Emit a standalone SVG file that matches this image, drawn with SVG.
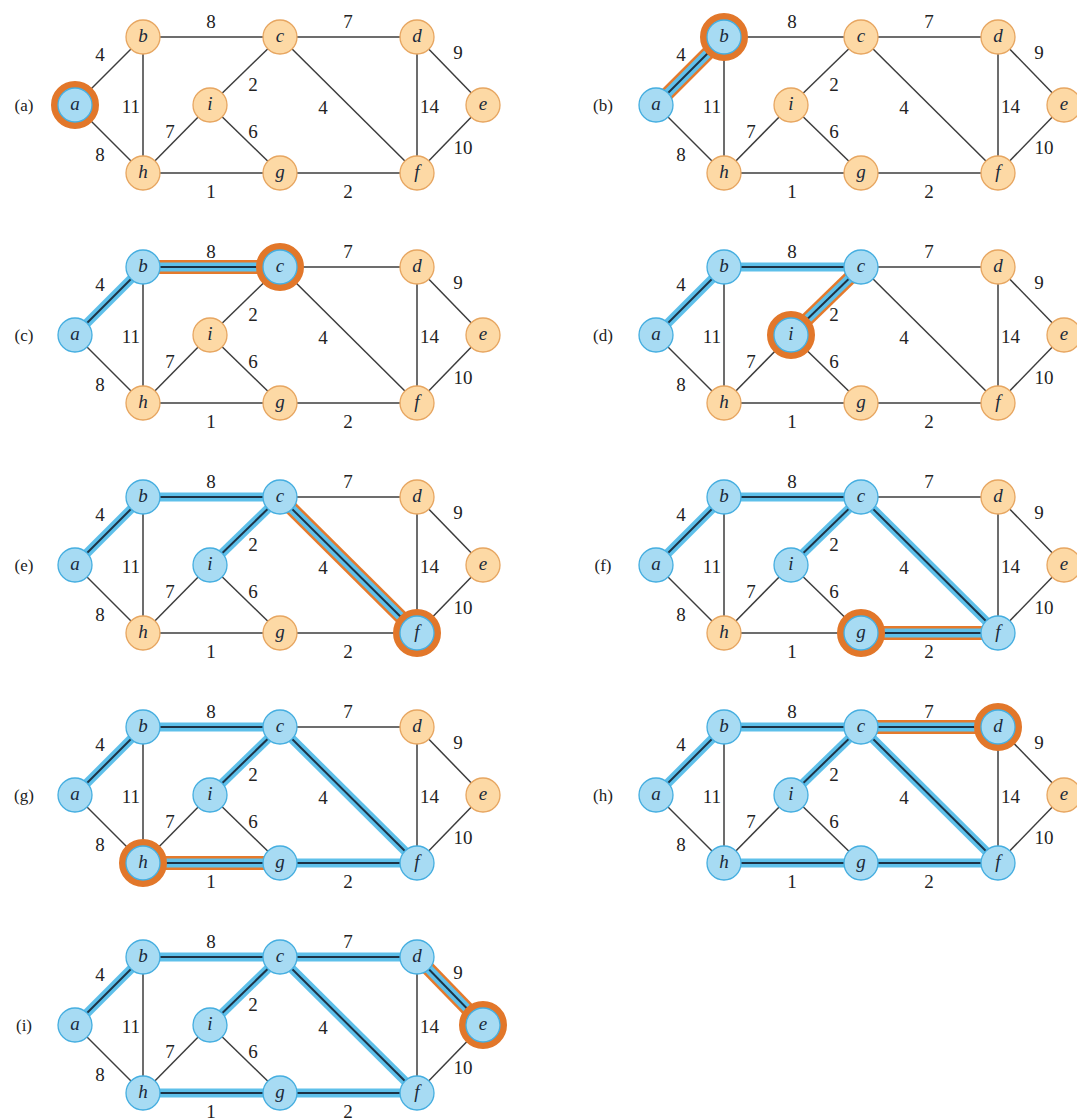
<svg xmlns="http://www.w3.org/2000/svg" width="1077" height="1120" viewBox="0 0 1077 1120">
<style>
.e line{stroke:#3d3d3d;stroke-width:1.5}
.ho{stroke:#E57A2C;stroke-width:14}
.hb{stroke:#5EC0EA;stroke-width:9}
.hc{stroke:#1d3346;stroke-width:2}
.w{font-family:"Liberation Serif","Times New Roman",serif;font-size:19px;fill:#222;text-anchor:middle}
.wr{text-anchor:end}
.ws{text-anchor:start}
.pl{font-family:"Liberation Serif","Times New Roman",serif;font-size:17px;fill:#222;text-anchor:middle}
.no circle{fill:#FDD9A5;stroke:#E7A661;stroke-width:1.3}
.nb circle{fill:#A7DBF3;stroke:#45AEE0;stroke-width:1.3}
circle.ring{fill:none;stroke:#E2772A;stroke-width:7}
.no text,.nb text{font-family:"Liberation Serif","Times New Roman",serif;font-style:italic;font-size:19px;fill:#1a2a3a;text-anchor:middle}
</style>
<defs>
<g id="edges" class="e">
<line x1="0" y1="0" x2="68" y2="-68"/>
<line x1="0" y1="0" x2="68" y2="68"/>
<line x1="68" y1="-68" x2="205" y2="-68"/>
<line x1="68" y1="-68" x2="68" y2="68"/>
<line x1="205" y1="-68" x2="342" y2="-68"/>
<line x1="205" y1="-68" x2="135" y2="0"/>
<line x1="205" y1="-68" x2="342" y2="68"/>
<line x1="342" y1="-68" x2="408" y2="0"/>
<line x1="342" y1="-68" x2="342" y2="68"/>
<line x1="408" y1="0" x2="342" y2="68"/>
<line x1="68" y1="68" x2="135" y2="0"/>
<line x1="135" y1="0" x2="205" y2="68"/>
<line x1="68" y1="68" x2="205" y2="68"/>
<line x1="205" y1="68" x2="342" y2="68"/>
</g>
</defs>

<!-- Panel (a) -->
<g id="panel-a" transform="translate(75,105)">
<text class="pl" x="-51" y="6">(a)</text>
<g id="connectors-a"><use href="#edges"/></g>
<g class="w"><text x="25" y="-44">4</text><text x="136" y="-77">8</text><text x="273" y="-77">7</text><text x="383" y="-46">9</text><text class="wr" x="65" y="8">11</text><text x="178" y="-14">2</text><text x="248" y="9">4</text><text class="ws" x="345" y="8">14</text><text x="95" y="33">7</text><text x="178" y="33">6</text><text x="388" y="49">10</text><text x="25" y="56">8</text><text x="136" y="93">1</text><text x="273" y="93">2</text></g>
<g id="a-a" class="nb"><circle class="ring" cx="0" cy="0" r="20.5"/><circle cx="0" cy="0" r="17"/><text x="0" y="5">a</text></g>
<g id="a-b" class="no"><circle cx="68" cy="-68" r="17"/><text x="68" y="-63">b</text></g>
<g id="a-c" class="no"><circle cx="205" cy="-68" r="17"/><text x="205" y="-63">c</text></g>
<g id="a-d" class="no"><circle cx="342" cy="-68" r="17"/><text x="342" y="-63">d</text></g>
<g id="a-e" class="no"><circle cx="408" cy="0" r="17"/><text x="408" y="5">e</text></g>
<g id="a-f" class="no"><circle cx="342" cy="68" r="17"/><text x="342" y="73">f</text></g>
<g id="a-g" class="no"><circle cx="205" cy="68" r="17"/><text x="205" y="73">g</text></g>
<g id="a-h" class="no"><circle cx="68" cy="68" r="17"/><text x="68" y="73">h</text></g>
<g id="a-i" class="no"><circle cx="135" cy="0" r="17"/><text x="135" y="5">i</text></g>
</g>

<!-- Panel (b) -->
<g id="panel-b" transform="translate(656,105)">
<text class="pl" x="-53" y="6">(b)</text>
<g id="connectors-b"><use href="#edges"/>
<line class="ho" x1="0" y1="0" x2="68" y2="-68"/>
<line class="hb" x1="0" y1="0" x2="68" y2="-68"/>
<line class="hc" x1="0" y1="0" x2="68" y2="-68"/>
</g>
<g class="w"><text x="25" y="-44">4</text><text x="136" y="-77">8</text><text x="273" y="-77">7</text><text x="383" y="-46">9</text><text class="wr" x="65" y="8">11</text><text x="178" y="-14">2</text><text x="248" y="9">4</text><text class="ws" x="345" y="8">14</text><text x="95" y="33">7</text><text x="178" y="33">6</text><text x="388" y="49">10</text><text x="25" y="56">8</text><text x="136" y="93">1</text><text x="273" y="93">2</text></g>
<g id="b-a" class="nb"><circle cx="0" cy="0" r="17"/><text x="0" y="5">a</text></g>
<g id="b-b" class="nb"><circle class="ring" cx="68" cy="-68" r="20.5"/><circle cx="68" cy="-68" r="17"/><text x="68" y="-63">b</text></g>
<g id="b-c" class="no"><circle cx="205" cy="-68" r="17"/><text x="205" y="-63">c</text></g>
<g id="b-d" class="no"><circle cx="342" cy="-68" r="17"/><text x="342" y="-63">d</text></g>
<g id="b-e" class="no"><circle cx="408" cy="0" r="17"/><text x="408" y="5">e</text></g>
<g id="b-f" class="no"><circle cx="342" cy="68" r="17"/><text x="342" y="73">f</text></g>
<g id="b-g" class="no"><circle cx="205" cy="68" r="17"/><text x="205" y="73">g</text></g>
<g id="b-h" class="no"><circle cx="68" cy="68" r="17"/><text x="68" y="73">h</text></g>
<g id="b-i" class="no"><circle cx="135" cy="0" r="17"/><text x="135" y="5">i</text></g>
</g>

<!-- Panel (c) -->
<g id="panel-c" transform="translate(75,335)">
<text class="pl" x="-51" y="6">(c)</text>
<g id="connectors-c"><use href="#edges"/>
<line class="ho" x1="68" y1="-68" x2="205" y2="-68"/>
<line class="hb" x1="0" y1="0" x2="68" y2="-68"/><line class="hb" x1="68" y1="-68" x2="205" y2="-68"/>
<line class="hc" x1="0" y1="0" x2="68" y2="-68"/><line class="hc" x1="68" y1="-68" x2="205" y2="-68"/>
</g>
<g class="w"><text x="25" y="-44">4</text><text x="136" y="-77">8</text><text x="273" y="-77">7</text><text x="383" y="-46">9</text><text class="wr" x="65" y="8">11</text><text x="178" y="-14">2</text><text x="248" y="9">4</text><text class="ws" x="345" y="8">14</text><text x="95" y="33">7</text><text x="178" y="33">6</text><text x="388" y="49">10</text><text x="25" y="56">8</text><text x="136" y="93">1</text><text x="273" y="93">2</text></g>
<g id="c-a" class="nb"><circle cx="0" cy="0" r="17"/><text x="0" y="5">a</text></g>
<g id="c-b" class="nb"><circle cx="68" cy="-68" r="17"/><text x="68" y="-63">b</text></g>
<g id="c-c" class="nb"><circle class="ring" cx="205" cy="-68" r="20.5"/><circle cx="205" cy="-68" r="17"/><text x="205" y="-63">c</text></g>
<g id="c-d" class="no"><circle cx="342" cy="-68" r="17"/><text x="342" y="-63">d</text></g>
<g id="c-e" class="no"><circle cx="408" cy="0" r="17"/><text x="408" y="5">e</text></g>
<g id="c-f" class="no"><circle cx="342" cy="68" r="17"/><text x="342" y="73">f</text></g>
<g id="c-g" class="no"><circle cx="205" cy="68" r="17"/><text x="205" y="73">g</text></g>
<g id="c-h" class="no"><circle cx="68" cy="68" r="17"/><text x="68" y="73">h</text></g>
<g id="c-i" class="no"><circle cx="135" cy="0" r="17"/><text x="135" y="5">i</text></g>
</g>

<!-- Panel (d) -->
<g id="panel-d" transform="translate(656,335)">
<text class="pl" x="-53" y="6">(d)</text>
<g id="connectors-d"><use href="#edges"/>
<line class="ho" x1="205" y1="-68" x2="135" y2="0"/>
<line class="hb" x1="0" y1="0" x2="68" y2="-68"/><line class="hb" x1="68" y1="-68" x2="205" y2="-68"/><line class="hb" x1="205" y1="-68" x2="135" y2="0"/>
<line class="hc" x1="0" y1="0" x2="68" y2="-68"/><line class="hc" x1="68" y1="-68" x2="205" y2="-68"/><line class="hc" x1="205" y1="-68" x2="135" y2="0"/>
</g>
<g class="w"><text x="25" y="-44">4</text><text x="136" y="-77">8</text><text x="273" y="-77">7</text><text x="383" y="-46">9</text><text class="wr" x="65" y="8">11</text><text x="178" y="-14">2</text><text x="248" y="9">4</text><text class="ws" x="345" y="8">14</text><text x="95" y="33">7</text><text x="178" y="33">6</text><text x="388" y="49">10</text><text x="25" y="56">8</text><text x="136" y="93">1</text><text x="273" y="93">2</text></g>
<g id="d-a" class="nb"><circle cx="0" cy="0" r="17"/><text x="0" y="5">a</text></g>
<g id="d-b" class="nb"><circle cx="68" cy="-68" r="17"/><text x="68" y="-63">b</text></g>
<g id="d-c" class="nb"><circle cx="205" cy="-68" r="17"/><text x="205" y="-63">c</text></g>
<g id="d-d" class="no"><circle cx="342" cy="-68" r="17"/><text x="342" y="-63">d</text></g>
<g id="d-e" class="no"><circle cx="408" cy="0" r="17"/><text x="408" y="5">e</text></g>
<g id="d-f" class="no"><circle cx="342" cy="68" r="17"/><text x="342" y="73">f</text></g>
<g id="d-g" class="no"><circle cx="205" cy="68" r="17"/><text x="205" y="73">g</text></g>
<g id="d-h" class="no"><circle cx="68" cy="68" r="17"/><text x="68" y="73">h</text></g>
<g id="d-i" class="nb"><circle class="ring" cx="135" cy="0" r="20.5"/><circle cx="135" cy="0" r="17"/><text x="135" y="5">i</text></g>
</g>

<!-- Panel (e) -->
<g id="panel-e" transform="translate(75,565)">
<text class="pl" x="-51" y="6">(e)</text>
<g id="connectors-e"><use href="#edges"/>
<line class="ho" x1="205" y1="-68" x2="342" y2="68"/>
<line class="hb" x1="0" y1="0" x2="68" y2="-68"/><line class="hb" x1="68" y1="-68" x2="205" y2="-68"/><line class="hb" x1="205" y1="-68" x2="135" y2="0"/><line class="hb" x1="205" y1="-68" x2="342" y2="68"/>
<line class="hc" x1="0" y1="0" x2="68" y2="-68"/><line class="hc" x1="68" y1="-68" x2="205" y2="-68"/><line class="hc" x1="205" y1="-68" x2="135" y2="0"/><line class="hc" x1="205" y1="-68" x2="342" y2="68"/>
</g>
<g class="w"><text x="25" y="-44">4</text><text x="136" y="-77">8</text><text x="273" y="-77">7</text><text x="383" y="-46">9</text><text class="wr" x="65" y="8">11</text><text x="178" y="-14">2</text><text x="248" y="9">4</text><text class="ws" x="345" y="8">14</text><text x="95" y="33">7</text><text x="178" y="33">6</text><text x="388" y="49">10</text><text x="25" y="56">8</text><text x="136" y="93">1</text><text x="273" y="93">2</text></g>
<g id="e-a" class="nb"><circle cx="0" cy="0" r="17"/><text x="0" y="5">a</text></g>
<g id="e-b" class="nb"><circle cx="68" cy="-68" r="17"/><text x="68" y="-63">b</text></g>
<g id="e-c" class="nb"><circle cx="205" cy="-68" r="17"/><text x="205" y="-63">c</text></g>
<g id="e-d" class="no"><circle cx="342" cy="-68" r="17"/><text x="342" y="-63">d</text></g>
<g id="e-e" class="no"><circle cx="408" cy="0" r="17"/><text x="408" y="5">e</text></g>
<g id="e-f" class="nb"><circle class="ring" cx="342" cy="68" r="20.5"/><circle cx="342" cy="68" r="17"/><text x="342" y="73">f</text></g>
<g id="e-g" class="no"><circle cx="205" cy="68" r="17"/><text x="205" y="73">g</text></g>
<g id="e-h" class="no"><circle cx="68" cy="68" r="17"/><text x="68" y="73">h</text></g>
<g id="e-i" class="nb"><circle cx="135" cy="0" r="17"/><text x="135" y="5">i</text></g>
</g>

<!-- Panel (f) -->
<g id="panel-f" transform="translate(656,565)">
<text class="pl" x="-53" y="6">(f)</text>
<g id="connectors-f"><use href="#edges"/>
<line class="ho" x1="205" y1="68" x2="342" y2="68"/>
<line class="hb" x1="0" y1="0" x2="68" y2="-68"/><line class="hb" x1="68" y1="-68" x2="205" y2="-68"/><line class="hb" x1="205" y1="-68" x2="135" y2="0"/><line class="hb" x1="205" y1="-68" x2="342" y2="68"/><line class="hb" x1="205" y1="68" x2="342" y2="68"/>
<line class="hc" x1="0" y1="0" x2="68" y2="-68"/><line class="hc" x1="68" y1="-68" x2="205" y2="-68"/><line class="hc" x1="205" y1="-68" x2="135" y2="0"/><line class="hc" x1="205" y1="-68" x2="342" y2="68"/><line class="hc" x1="205" y1="68" x2="342" y2="68"/>
</g>
<g class="w"><text x="25" y="-44">4</text><text x="136" y="-77">8</text><text x="273" y="-77">7</text><text x="383" y="-46">9</text><text class="wr" x="65" y="8">11</text><text x="178" y="-14">2</text><text x="248" y="9">4</text><text class="ws" x="345" y="8">14</text><text x="95" y="33">7</text><text x="178" y="33">6</text><text x="388" y="49">10</text><text x="25" y="56">8</text><text x="136" y="93">1</text><text x="273" y="93">2</text></g>
<g id="f-a" class="nb"><circle cx="0" cy="0" r="17"/><text x="0" y="5">a</text></g>
<g id="f-b" class="nb"><circle cx="68" cy="-68" r="17"/><text x="68" y="-63">b</text></g>
<g id="f-c" class="nb"><circle cx="205" cy="-68" r="17"/><text x="205" y="-63">c</text></g>
<g id="f-d" class="no"><circle cx="342" cy="-68" r="17"/><text x="342" y="-63">d</text></g>
<g id="f-e" class="no"><circle cx="408" cy="0" r="17"/><text x="408" y="5">e</text></g>
<g id="f-f" class="nb"><circle cx="342" cy="68" r="17"/><text x="342" y="73">f</text></g>
<g id="f-g" class="nb"><circle class="ring" cx="205" cy="68" r="20.5"/><circle cx="205" cy="68" r="17"/><text x="205" y="73">g</text></g>
<g id="f-h" class="no"><circle cx="68" cy="68" r="17"/><text x="68" y="73">h</text></g>
<g id="f-i" class="nb"><circle cx="135" cy="0" r="17"/><text x="135" y="5">i</text></g>
</g>

<!-- Panel (g) -->
<g id="panel-g" transform="translate(75,795)">
<text class="pl" x="-51" y="6">(g)</text>
<g id="connectors-g"><use href="#edges"/>
<line class="ho" x1="68" y1="68" x2="205" y2="68"/>
<line class="hb" x1="0" y1="0" x2="68" y2="-68"/><line class="hb" x1="68" y1="-68" x2="205" y2="-68"/><line class="hb" x1="205" y1="-68" x2="135" y2="0"/><line class="hb" x1="205" y1="-68" x2="342" y2="68"/><line class="hb" x1="205" y1="68" x2="342" y2="68"/><line class="hb" x1="68" y1="68" x2="205" y2="68"/>
<line class="hc" x1="0" y1="0" x2="68" y2="-68"/><line class="hc" x1="68" y1="-68" x2="205" y2="-68"/><line class="hc" x1="205" y1="-68" x2="135" y2="0"/><line class="hc" x1="205" y1="-68" x2="342" y2="68"/><line class="hc" x1="205" y1="68" x2="342" y2="68"/><line class="hc" x1="68" y1="68" x2="205" y2="68"/>
</g>
<g class="w"><text x="25" y="-44">4</text><text x="136" y="-77">8</text><text x="273" y="-77">7</text><text x="383" y="-46">9</text><text class="wr" x="65" y="8">11</text><text x="178" y="-14">2</text><text x="248" y="9">4</text><text class="ws" x="345" y="8">14</text><text x="95" y="33">7</text><text x="178" y="33">6</text><text x="388" y="49">10</text><text x="25" y="56">8</text><text x="136" y="93">1</text><text x="273" y="93">2</text></g>
<g id="g-a" class="nb"><circle cx="0" cy="0" r="17"/><text x="0" y="5">a</text></g>
<g id="g-b" class="nb"><circle cx="68" cy="-68" r="17"/><text x="68" y="-63">b</text></g>
<g id="g-c" class="nb"><circle cx="205" cy="-68" r="17"/><text x="205" y="-63">c</text></g>
<g id="g-d" class="no"><circle cx="342" cy="-68" r="17"/><text x="342" y="-63">d</text></g>
<g id="g-e" class="no"><circle cx="408" cy="0" r="17"/><text x="408" y="5">e</text></g>
<g id="g-f" class="nb"><circle cx="342" cy="68" r="17"/><text x="342" y="73">f</text></g>
<g id="g-g" class="nb"><circle cx="205" cy="68" r="17"/><text x="205" y="73">g</text></g>
<g id="g-h" class="nb"><circle class="ring" cx="68" cy="68" r="20.5"/><circle cx="68" cy="68" r="17"/><text x="68" y="73">h</text></g>
<g id="g-i" class="nb"><circle cx="135" cy="0" r="17"/><text x="135" y="5">i</text></g>
</g>

<!-- Panel (h) -->
<g id="panel-h" transform="translate(656,795)">
<text class="pl" x="-53" y="6">(h)</text>
<g id="connectors-h"><use href="#edges"/>
<line class="ho" x1="205" y1="-68" x2="342" y2="-68"/>
<line class="hb" x1="0" y1="0" x2="68" y2="-68"/><line class="hb" x1="68" y1="-68" x2="205" y2="-68"/><line class="hb" x1="205" y1="-68" x2="135" y2="0"/><line class="hb" x1="205" y1="-68" x2="342" y2="68"/><line class="hb" x1="205" y1="68" x2="342" y2="68"/><line class="hb" x1="68" y1="68" x2="205" y2="68"/><line class="hb" x1="205" y1="-68" x2="342" y2="-68"/>
<line class="hc" x1="0" y1="0" x2="68" y2="-68"/><line class="hc" x1="68" y1="-68" x2="205" y2="-68"/><line class="hc" x1="205" y1="-68" x2="135" y2="0"/><line class="hc" x1="205" y1="-68" x2="342" y2="68"/><line class="hc" x1="205" y1="68" x2="342" y2="68"/><line class="hc" x1="68" y1="68" x2="205" y2="68"/><line class="hc" x1="205" y1="-68" x2="342" y2="-68"/>
</g>
<g class="w"><text x="25" y="-44">4</text><text x="136" y="-77">8</text><text x="273" y="-77">7</text><text x="383" y="-46">9</text><text class="wr" x="65" y="8">11</text><text x="178" y="-14">2</text><text x="248" y="9">4</text><text class="ws" x="345" y="8">14</text><text x="95" y="33">7</text><text x="178" y="33">6</text><text x="388" y="49">10</text><text x="25" y="56">8</text><text x="136" y="93">1</text><text x="273" y="93">2</text></g>
<g id="h-a" class="nb"><circle cx="0" cy="0" r="17"/><text x="0" y="5">a</text></g>
<g id="h-b" class="nb"><circle cx="68" cy="-68" r="17"/><text x="68" y="-63">b</text></g>
<g id="h-c" class="nb"><circle cx="205" cy="-68" r="17"/><text x="205" y="-63">c</text></g>
<g id="h-d" class="nb"><circle class="ring" cx="342" cy="-68" r="20.5"/><circle cx="342" cy="-68" r="17"/><text x="342" y="-63">d</text></g>
<g id="h-e" class="no"><circle cx="408" cy="0" r="17"/><text x="408" y="5">e</text></g>
<g id="h-f" class="nb"><circle cx="342" cy="68" r="17"/><text x="342" y="73">f</text></g>
<g id="h-g" class="nb"><circle cx="205" cy="68" r="17"/><text x="205" y="73">g</text></g>
<g id="h-h" class="nb"><circle cx="68" cy="68" r="17"/><text x="68" y="73">h</text></g>
<g id="h-i" class="nb"><circle cx="135" cy="0" r="17"/><text x="135" y="5">i</text></g>
</g>

<!-- Panel (i) -->
<g id="panel-i" transform="translate(75,1025)">
<text class="pl" x="-51" y="6">(i)</text>
<g id="connectors-i"><use href="#edges"/>
<line class="ho" x1="342" y1="-68" x2="408" y2="0"/>
<line class="hb" x1="0" y1="0" x2="68" y2="-68"/><line class="hb" x1="68" y1="-68" x2="205" y2="-68"/><line class="hb" x1="205" y1="-68" x2="135" y2="0"/><line class="hb" x1="205" y1="-68" x2="342" y2="68"/><line class="hb" x1="205" y1="68" x2="342" y2="68"/><line class="hb" x1="68" y1="68" x2="205" y2="68"/><line class="hb" x1="205" y1="-68" x2="342" y2="-68"/><line class="hb" x1="342" y1="-68" x2="408" y2="0"/>
<line class="hc" x1="0" y1="0" x2="68" y2="-68"/><line class="hc" x1="68" y1="-68" x2="205" y2="-68"/><line class="hc" x1="205" y1="-68" x2="135" y2="0"/><line class="hc" x1="205" y1="-68" x2="342" y2="68"/><line class="hc" x1="205" y1="68" x2="342" y2="68"/><line class="hc" x1="68" y1="68" x2="205" y2="68"/><line class="hc" x1="205" y1="-68" x2="342" y2="-68"/><line class="hc" x1="342" y1="-68" x2="408" y2="0"/>
</g>
<g class="w"><text x="25" y="-44">4</text><text x="136" y="-77">8</text><text x="273" y="-77">7</text><text x="383" y="-46">9</text><text class="wr" x="65" y="8">11</text><text x="178" y="-14">2</text><text x="248" y="9">4</text><text class="ws" x="345" y="8">14</text><text x="95" y="33">7</text><text x="178" y="33">6</text><text x="388" y="49">10</text><text x="25" y="56">8</text><text x="136" y="93">1</text><text x="273" y="93">2</text></g>
<g id="i-a" class="nb"><circle cx="0" cy="0" r="17"/><text x="0" y="5">a</text></g>
<g id="i-b" class="nb"><circle cx="68" cy="-68" r="17"/><text x="68" y="-63">b</text></g>
<g id="i-c" class="nb"><circle cx="205" cy="-68" r="17"/><text x="205" y="-63">c</text></g>
<g id="i-d" class="nb"><circle cx="342" cy="-68" r="17"/><text x="342" y="-63">d</text></g>
<g id="i-e" class="nb"><circle class="ring" cx="408" cy="0" r="20.5"/><circle cx="408" cy="0" r="17"/><text x="408" y="5">e</text></g>
<g id="i-f" class="nb"><circle cx="342" cy="68" r="17"/><text x="342" y="73">f</text></g>
<g id="i-g" class="nb"><circle cx="205" cy="68" r="17"/><text x="205" y="73">g</text></g>
<g id="i-h" class="nb"><circle cx="68" cy="68" r="17"/><text x="68" y="73">h</text></g>
<g id="i-i" class="nb"><circle cx="135" cy="0" r="17"/><text x="135" y="5">i</text></g>
</g>
</svg>
